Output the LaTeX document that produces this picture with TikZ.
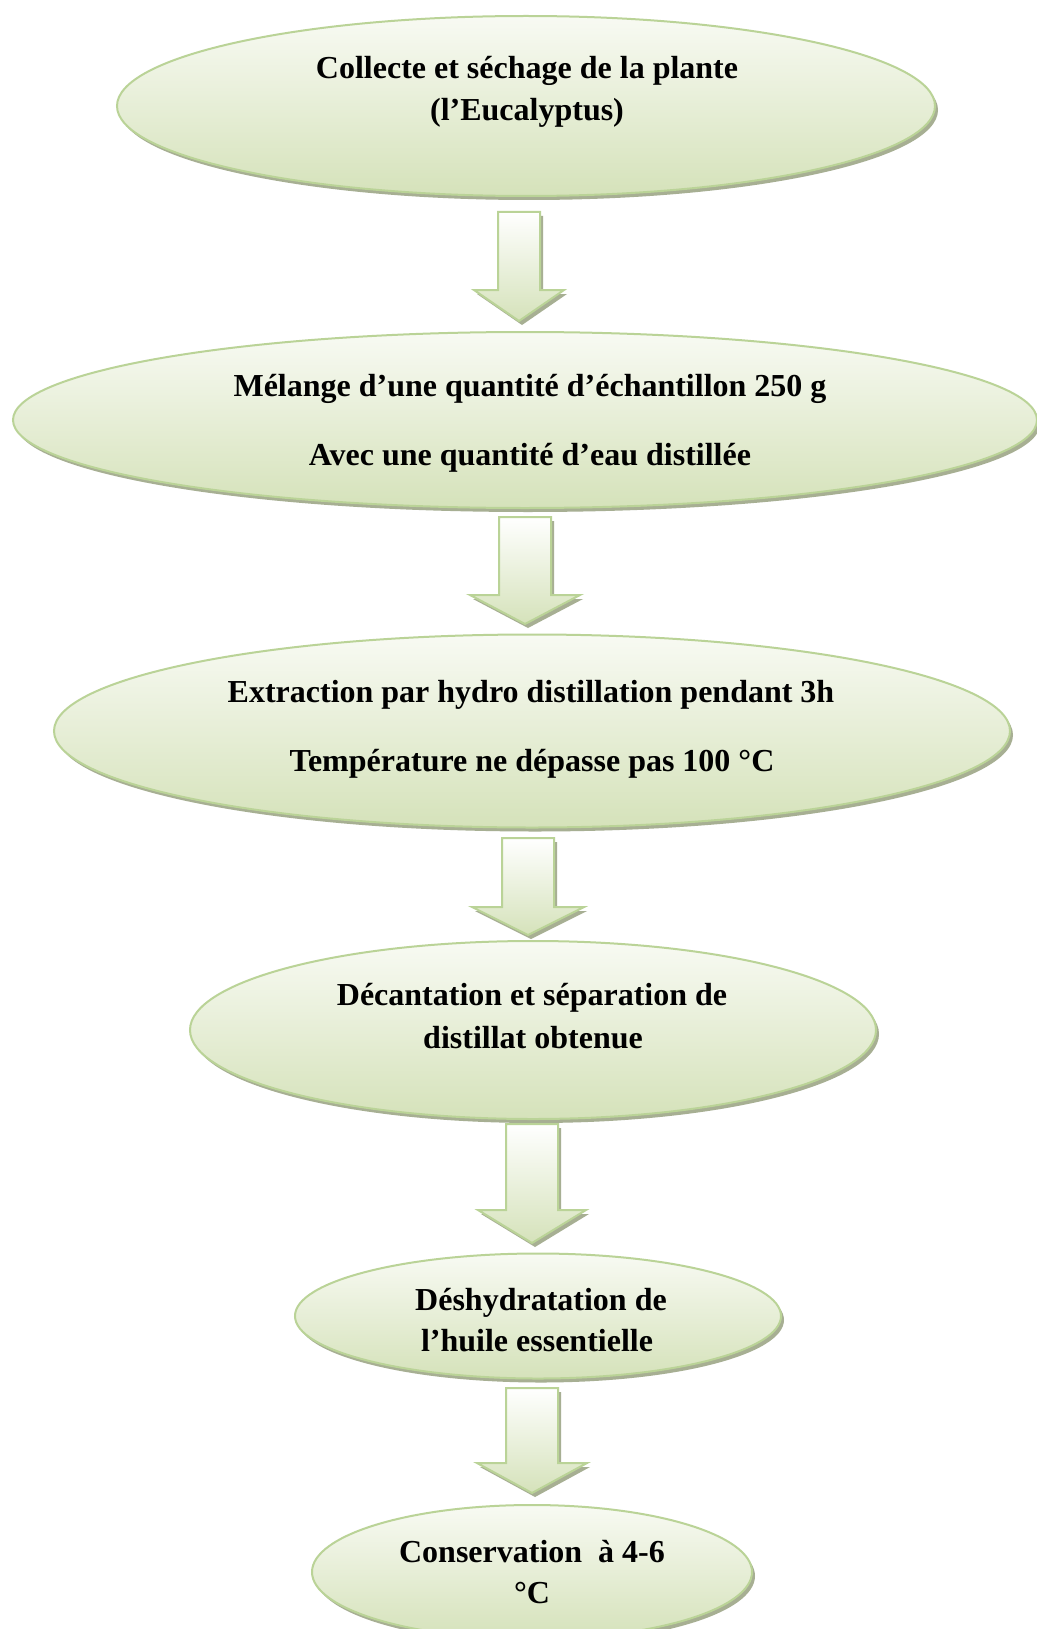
\documentclass[tikz,border=0pt]{standalone}
\usepackage{fontspec}
\setmainfont{Liberation Serif}
\usetikzlibrary{shapes.geometric,shadows,calc}
\definecolor{bord}{HTML}{BAD397}
\definecolor{filltop}{HTML}{F8FAF3}
\definecolor{fillbot}{HTML}{D5E2BA}
\definecolor{shad}{HTML}{A7AF93}
\tikzset{
  oval/.style={ellipse, draw=bord, line width=2pt, top color=filltop, bottom color=fillbot,
    inner sep=0pt, drop shadow={shadow xshift=3pt, shadow yshift=-4pt, fill=shad, opacity=1}},
  txt/.style={anchor=base, inner sep=0pt, font=\bfseries\fontsize{32}{43}\selectfont, text=black},
  blockarrow/.style={draw=bord, line width=2pt, line join=miter, top color=white, bottom color=fillbot,
    drop shadow={shadow xshift=3pt, shadow yshift=-4pt, fill=shad, opacity=1}}
}
% #1 top coordinate, #2 tip coordinate, #3 shaft half width, #4 head half width, #5 head height
\newcommand\myblockarrow[5]{%
  \path[blockarrow] let \p1=(#1), \p2=(#2) in
    (\x1-#3pt,\y1) -- (\x1+#3pt,\y1) -- (\x1+#3pt,\y2+#5pt) -- (\x1+#4pt,\y2+#5pt)
    -- (\x2,\y2) -- (\x1-#4pt,\y2+#5pt) -- (\x1-#3pt,\y2+#5pt) -- cycle;}
\begin{document}
\begin{tikzpicture}[x=1pt,y=-1pt]
\useasboundingbox[fill=white] (0,0) rectangle (1036,1629);

% ovals
\node[oval, minimum width=818pt, minimum height=180pt] (e1) at (526,106) {};
\node[oval, minimum width=1024pt, minimum height=176pt] (e2) at (525,420) {};
\node[oval, minimum width=956pt, minimum height=193pt] (e3) at (532,731) {};
\node[oval, minimum width=686pt, minimum height=178pt] (e4) at (533,1030) {};
\node[oval, minimum width=486pt, minimum height=125pt] (e5) at (538,1316) {};
\node[oval, minimum width=440pt, minimum height=134pt] (e6) at (532,1572) {};

% texts
\node[txt] (t1a) at (527,79) {Collecte et séchage de la plante};
\node[txt] (t1b) at (527,121) {(l’Eucalyptus)};
\node[txt] (t2a) at (530,396) {Mélange d’une quantité d’échantillon 250 g};
\node[txt] (t2b) at (530,465) {Avec une quantité d’eau distillée};
\node[txt] (t3a) at (531,702) {Extraction par hydro distillation pendant 3h};
\node[txt] (t3b) at (532,771) {Température ne dépasse pas 100 °C};
\node[txt] (t4a) at (532,1005) {Décantation et séparation de};
\node[txt] (t4b) at (533,1048) {distillat obtenue};
\node[txt] (t5a) at (541,1310) {Déshydratation de};
\node[txt] (t5b) at (537,1351) {l’huile essentielle};
\node[txt] (t6a) at (532,1562) {Conservation\ \ à 4-6};
\node[txt] (t6b) at (532,1603) {°C};

% arrow end points
\coordinate (a1s) at (519,212);  \coordinate (a1t) at (519,321);
\coordinate (a2s) at (525,517);  \coordinate (a2t) at (525,624);
\coordinate (a3s) at (528,838);  \coordinate (a3t) at (528,935);
\coordinate (a4s) at (532,1124); \coordinate (a4t) at (532,1243);
\coordinate (a5s) at (532,1388); \coordinate (a5t) at (532,1493);

\myblockarrow{a1s}{a1t}{21}{45}{31}
\myblockarrow{a2s}{a2t}{26}{55}{29}
\myblockarrow{a3s}{a3t}{26}{56}{28}
\myblockarrow{a4s}{a4t}{26}{54}{33}
\myblockarrow{a5s}{a5t}{26}{55}{30}
\end{tikzpicture}
\end{document}
